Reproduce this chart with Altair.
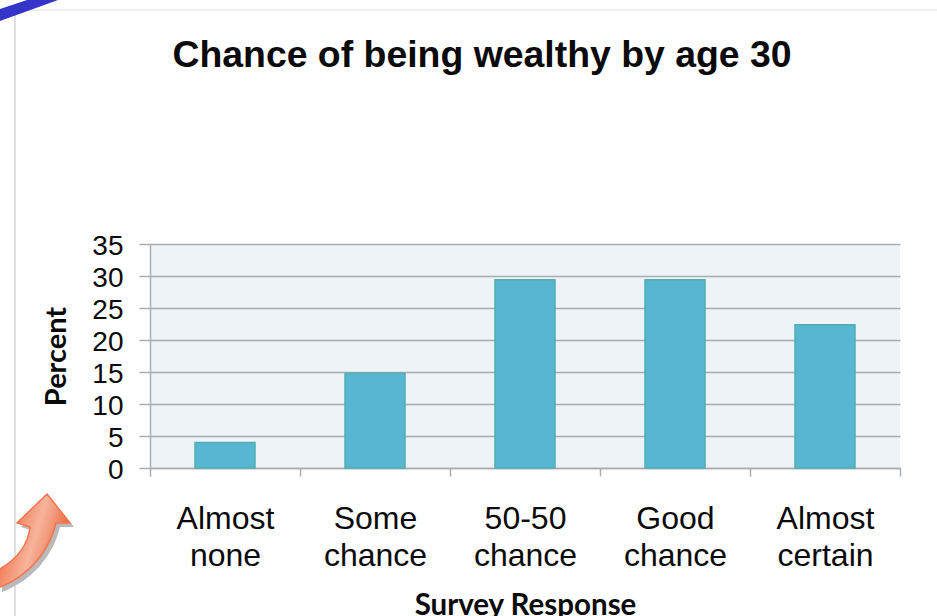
import altair as alt
import pandas as pd

responses = ["Almost\nnone", "Some\nchance", "50-50\nchance", "Good\nchance", "Almost\ncertain"]
percents = [4.0, 14.8, 29.4, 29.4, 22.4]
y_ticks = [0, 5, 10, 15, 20, 25, 30, 35]
heading = ["Chance of being wealthy by age 30"]

table = pd.DataFrame({"response": responses, "percent": percents})
GRID = "#a9adb0"
TEXT = "#0a0a0a"

# Slide decorations sit outside the plot area, so offsets are relative to its corner.
origin_x, origin_y = 150, 244
one = alt.Data(values=[{"k": 0}])

STRIPE_PATH = "M0,9 L27,0 L58,0 L0,21 Z"
ARROW_PATH = "M47,494 L70,523 L56,523 C50,548 32,575 -2,588 L-2,570 C16,560 28,545 30,527 L17,523 Z"


def shape(path, fill, dx=0, dy=0, **style):
    # A custom symbol of size 4 draws its path at one pixel per unit.
    return alt.Chart(one).mark_point(
        shape=path, size=4, filled=True, fill=fill, opacity=1, clip=False, **style
    ).encode(x=alt.value(dx - origin_x), y=alt.value(dy - origin_y))


stripe = shape(STRIPE_PATH, "#3434c8", strokeWidth=0)
arrow_shadow = shape(ARROW_PATH, "#b9b9b9", dx=4, dy=4, strokeWidth=0)
arrow = shape(
    ARROW_PATH,
    alt.Gradient(
        gradient="linear", x1=0, y1=0.35, x2=1, y2=0.75,
        stops=[
            alt.GradientStop(color="#ef6235", offset=0.0),
            alt.GradientStop(color="#f7b49c", offset=0.48),
            alt.GradientStop(color="#f29a7c", offset=0.62),
            alt.GradientStop(color="#ee6439", offset=0.85),
        ],
    ),
    stroke="#f2764f",
    strokeWidth=1.5,
)

frame_left = alt.Chart(one).mark_rule(color="#d6d6d6", strokeWidth=1.5, clip=False).encode(
    x=alt.value(15 - origin_x), y=alt.value(10 - origin_y), y2=alt.value(616 - origin_y)
)
frame_top = alt.Chart(one).mark_rule(color="#ececec", strokeWidth=1.5, clip=False).encode(
    x=alt.value(15 - origin_x), x2=alt.value(937 - origin_x), y=alt.value(10 - origin_y)
)

title_text = alt.Chart(pd.DataFrame({"t": heading})).mark_text(
    font="Liberation Sans", fontSize=37.4, fontWeight="bold", color=TEXT,
    align="center", baseline="alphabetic", clip=False,
).encode(x=alt.value(482 - origin_x), y=alt.value(67 - origin_y), text="t:N")

bars = alt.Chart(table).mark_bar(
    color="#57b6d1", stroke="#52aeb0", strokeWidth=1.5, width=60
).encode(
    x=alt.X(
        "response:N",
        sort=responses,
        scale=alt.Scale(paddingInner=0, paddingOuter=0),
        axis=alt.Axis(
            title="Survey Response",
            titleFont="Lato", titleFontSize=29.5, titleFontWeight="bold", titleColor=TEXT,
            titlePadding=20,
            labelFont="Liberation Sans", labelFontSize=32, labelColor=TEXT,
            labelAngle=0, labelPadding=42, labelLineHeight=37, labelBaseline="middle",
            labelExpr="split(datum.label, '\\n')",
            tickBand="extent", tickSize=8, tickColor=GRID, tickWidth=1.5,
            domainColor=GRID, domainWidth=1.5, grid=False,
        ),
    ),
    y=alt.Y(
        "percent:Q",
        scale=alt.Scale(domain=[0, 35]),
        axis=alt.Axis(
            values=y_ticks,
            title="Percent",
            titleFont="Lato", titleFontSize=29, titleFontWeight="bold", titleColor=TEXT,
            titlePadding=20,
            labelFont="Liberation Sans", labelFontSize=28, labelColor=TEXT,
            labelPadding=16, labelOffset=2,
            tickSize=11, tickColor=GRID, tickWidth=1.5,
            domainColor=GRID, domainWidth=1.5,
            grid=True, gridColor=GRID, gridWidth=1.5,
        ),
    ),
)

chart = (
    alt.layer(bars, frame_left, frame_top, stripe, arrow_shadow, arrow, title_text)
    .properties(
        width=750,
        height=224,
        padding={"left": origin_x, "top": origin_y, "right": 37, "bottom": 148},
        autosize=alt.AutoSizeParams(type="none"),
    )
    .configure_view(fill="#eef3f8", strokeWidth=0)
)

chart.save("out.html", embed_options={"renderer": "svg", "actions": False})
